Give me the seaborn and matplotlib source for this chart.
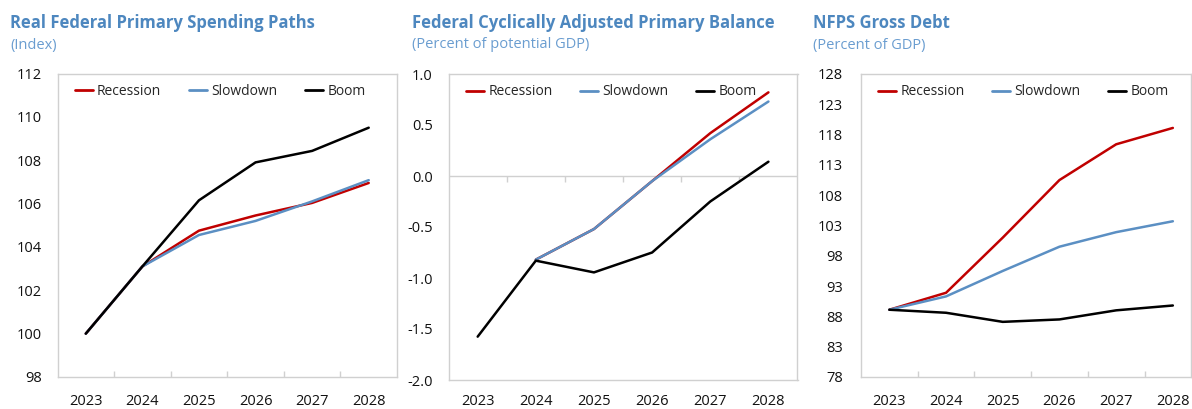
import matplotlib
matplotlib.use("Agg")
import matplotlib.pyplot as plt
import seaborn as sns
import pandas as pd
import numpy as np

years = [2023, 2024, 2025, 2026, 2027, 2028]
scenarios = ["Recession", "Slowdown", "Boom"]

spend_recession = [100.0, 103.1, 104.75, 105.45, 106.03, 106.95]
spend_slowdown = [100.0, 103.1, 104.55, 105.2, 106.1, 107.08]
spend_boom = [100.0, 103.1, 106.15, 107.9, 108.43, 109.5]

bal_recession = [np.nan, -0.82, -0.52, -0.05, 0.42, 0.82]
bal_slowdown = [np.nan, -0.82, -0.52, -0.05, 0.36, 0.73]
bal_boom = [-1.575, -0.83, -0.945, -0.75, -0.25, 0.14]

debt_recession = [89.1, 91.9, 101.0, 110.5, 116.4, 119.1]
debt_slowdown = [89.1, 91.3, 95.5, 99.5, 101.9, 103.7]
debt_boom = [89.1, 88.6, 87.1, 87.5, 89.0, 89.8]

titles = ["Real Federal Primary Spending Paths",
          "Federal Cyclically Adjusted Primary Balance",
          "NFPS Gross Debt"]
subtitles = ["(Index)", "(Percent of potential GDP)", "(Percent of GDP)"]

palette = {"Recession": "#c00000", "Slowdown": "#5b8fc3", "Boom": "#000000"}

sns.set_theme(style="white")
plt.rcParams["font.family"] = ["Open Sans", "DejaVu Sans"]

def make_df(r, s, b):
    rows = []
    for name, vals in zip(scenarios, [r, s, b]):
        for y, v in zip(years, vals):
            if not np.isnan(v):
                rows.append({"year": y, "value": v, "scenario": name})
    return pd.DataFrame(rows)

dfs = [make_df(spend_recession, spend_slowdown, spend_boom),
       make_df(bal_recession, bal_slowdown, bal_boom),
       make_df(debt_recession, debt_slowdown, debt_boom)]

W, H = 1192, 409
fig = plt.figure(figsize=(W / 100, H / 100), dpi=100)

# axes boxes in pixels: left, top, right, bottom
boxes = [(57.5, 73.5, 397, 377), (448.6, 74, 797.5, 380), (861, 74, 1191, 377)]
ylims = [(98, 112), (-2.0, 1.0), (78, 128)]
yticks = [np.arange(98, 113, 2), np.arange(-2.0, 1.01, 0.5), np.arange(78, 129, 5)]
yfmt = ["{:.0f}", "{:.1f}", "{:.0f}"]
xright = [2028.5, 2028.5, 2022.5 + (1191 - 861) / 56.7]
title_x = [10, 411.7, 813]
ypads = [11.5, 11.5, 13]
xpads = [12, 10, 12]

grey = "#d0d0d0"
title_col = "#4d87bf"
sub_col = "#6a9dd0"

for i in range(3):
    l, t, r, b = boxes[i]
    ax = fig.add_axes([l / W, (H - b) / H, (r - l) / W, (b - t) / H])
    sns.lineplot(data=dfs[i], x="year", y="value", hue="scenario",
                 hue_order=scenarios, palette=palette, linewidth=1.8,
                 ax=ax, legend=False)
    ax.set_xlim(2022.5, xright[i])
    ax.set_ylim(*ylims[i])
    ax.set_yticks(yticks[i])
    ax.set_yticklabels([yfmt[i].format(v) for v in yticks[i]])
    ax.set_xticks(years)
    ax.set_xticklabels([str(y) for y in years])
    ax.set_xlabel("")
    ax.set_ylabel("")
    for sp in ax.spines.values():
        sp.set_visible(True)
        sp.set_color(grey)
        sp.set_linewidth(1.0)
    ax.tick_params(axis="y", length=0, pad=ypads[i], labelsize=10.5, labelcolor="#111111")
    ax.tick_params(axis="x", which="major", length=0, pad=xpads[i], labelsize=10.5, labelcolor="#111111")
    bounds = [y + 0.5 for y in years[:-1]]
    if i == 1:
        frac = (0 - ylims[1][0]) / (ylims[1][1] - ylims[1][0])
        ax.axhline(0, color=grey, linewidth=1.0, zorder=0)
        sec = ax.secondary_xaxis(frac)
        sec.set_xticks(bounds)
        sec.set_xticklabels([])
        for sp in sec.spines.values():
            sp.set_visible(False)
        sec.tick_params(axis="x", direction="in", length=4, color=grey, width=1.0)
    else:
        ax.set_xticks(bounds, minor=True)
        ax.tick_params(axis="x", which="minor", direction="in", length=4,
                       color=grey, width=1.0, bottom=True)

    handles = [plt.Line2D([], [], color=palette[s], linewidth=2.0) for s in scenarios]
    ax.legend(handles, scenarios, loc="upper left", ncol=3, frameon=False,
              bbox_to_anchor=(0.02, 1.0), fontsize=10, handlelength=1.3,
              handletextpad=0.3, columnspacing=2.0, borderaxespad=0.35)

    fig.text(title_x[i] / W, 1 - 23 / H, titles[i], color=title_col,
             fontsize=12, fontweight="bold", va="center", ha="left")
    fig.text(title_x[i] / W, 1 - 45 / H, subtitles[i], color=sub_col,
             fontsize=10.5, va="center", ha="left")

fig.savefig("out.png", dpi=100)
